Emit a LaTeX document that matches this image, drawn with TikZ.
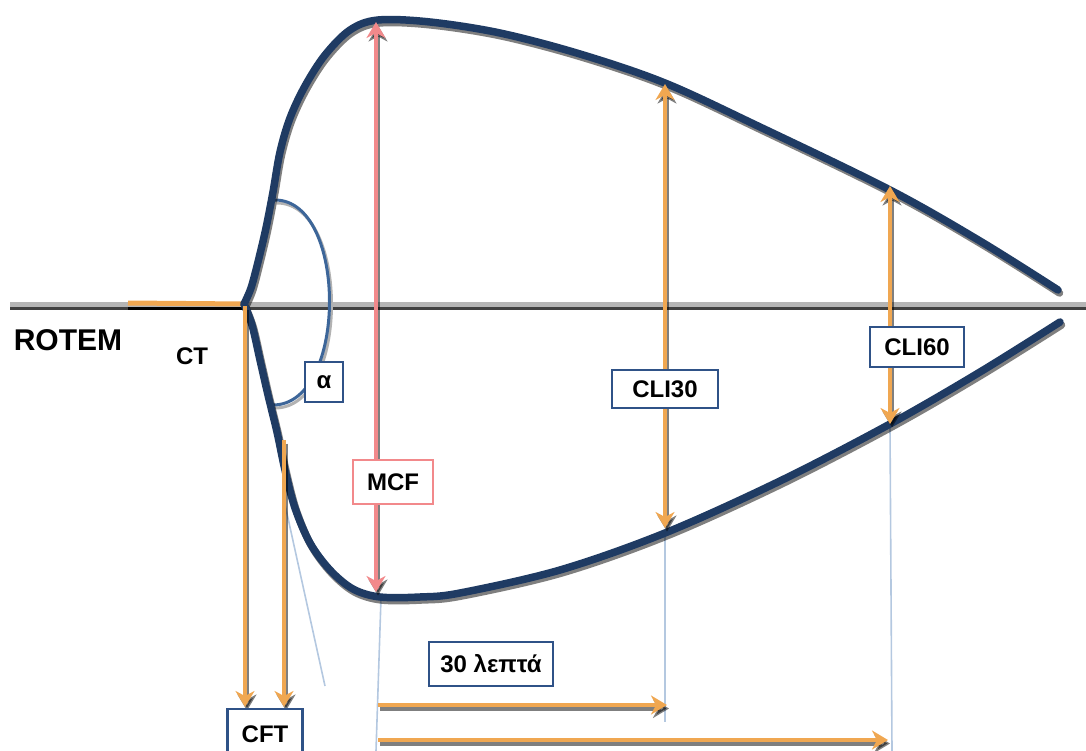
\documentclass[tikz,border=0pt]{standalone}
\usepackage{fontspec}
\setmainfont{Liberation Sans}
\usetikzlibrary{arrows.meta}
\definecolor{navy}{HTML}{1F3B63}
\definecolor{boxblue}{HTML}{2F5287}
\definecolor{arcblue}{HTML}{3D6699}
\definecolor{orng}{HTML}{F0A751}
\definecolor{pnk}{HTML}{F2898B}
\definecolor{thinblue}{HTML}{B4C8E0}
\definecolor{basegray}{HTML}{B5B5B5}
\newcommand\upperpath{plot[smooth,tension=0.55] coordinates {(244,304) (251,288) (258,262) (266,228) (273,192) (280,152) (290,118) (305,86) (325,55) (350,30) (378,20) (430,22) (500,33) (580,54) (665,83) (760,127) (890,190) (980,241) (1058,290)}}
\newcommand\lowerpath{plot[smooth,tension=0.55] coordinates {(244,304) (252,325) (260,360) (268,395) (277,432) (285,470) (295,508) (310,543) (330,570) (353,589) (380,597) (420,597) (460,593) (560,570) (665,533) (780,481) (890,424) (980,372) (1060,322)}}
\begin{document}
\begin{tikzpicture}[x=1pt,y=-1pt,
  chev/.tip={Stealth[length=16pt,width=19pt,inset=5pt]},
  curve/.style={draw=navy,line width=7.5pt,line cap=round},
  shade/.style={draw=black,opacity=0.5},
  oarrow/.style={draw=orng,line width=4pt},
  parrow/.style={draw=pnk,line width=4pt},
  thin/.style={draw=thinblue,line width=1.6pt},
  lbl/.style={draw=boxblue,line width=2.5pt,fill=white,text=black,inner sep=0pt,
    font=\bfseries\fontsize{24}{24}\selectfont},
  plain/.style={text=black,inner sep=0pt,font=\bfseries\fontsize{24}{24}\selectfont}]
\useasboundingbox (0,0) rectangle (1086,751);

% named points
\coordinate (O) at (244,304);
\coordinate (CTs) at (128,303);
\coordinate (MCFtop) at (376,22);
\coordinate (MCFbot) at (376,592);
\coordinate (C30top) at (665,84);
\coordinate (C30bot) at (665,528);
\coordinate (C60top) at (890,186);
\coordinate (C60bot) at (890,424);
\coordinate (F1s) at (245,306);
\coordinate (F1e) at (245,707);
\coordinate (F2s) at (284,440);
\coordinate (F2e) at (284,707);
\coordinate (Tstart1) at (378,705);
\coordinate (Tstart2) at (378,740);
\coordinate (T30) at (667,705);
\coordinate (T60) at (888,740);

% thin blue guide lines
\draw[thin] (284,500) -- (325,686);
\draw[thin] (381,598) -- (376,751);
\draw[thin] (665,535) -- (665,722);
\draw[thin] (890,428) -- (892,751);

% baseline
\draw[black,opacity=0.75,line width=3pt] (10,308.5) -- (1086,308.5);
\draw[basegray,line width=5pt] (10,304) -- (1086,304);
\draw[black,line width=3pt] (128,308) -- (244,308);
\draw[orng,line width=5pt] (CTs) -- (O);

% angle arc
\draw[gray!60,line width=3pt] (277,203) .. controls (350,203) and (350,408) .. (275,408);
\draw[arcblue,line width=3pt] (275,200) .. controls (348,200) and (348,405) .. (273,405);

% curve shadows
\begin{scope}[transform canvas={shift={(1.5pt,-3pt)}}]
  \draw[shade,line width=7.5pt,line cap=round] \upperpath;
  \draw[shade,line width=7.5pt,line cap=round] \lowerpath;
\end{scope}
% curves
\draw[curve] \upperpath;
\draw[curve] \lowerpath;

% arrow shadows
\begin{scope}[transform canvas={shift={(2pt,-3.5pt)}}]
  \draw[shade,line width=4pt,arrows={chev-chev}] (MCFbot) -- (MCFtop);
  \draw[shade,line width=4pt,arrows={chev-chev}] (C30bot) -- (C30top);
  \draw[shade,line width=4pt,arrows={chev-chev}] (C60bot) -- (C60top);
  \draw[shade,line width=4pt,arrows={-chev}] (F1s) -- (F1e);
  \draw[shade,line width=4pt,arrows={-chev}] (F2s) -- (F2e);
  \draw[shade,line width=4pt,arrows={-chev}] (Tstart1) -- (T30);
  \draw[shade,line width=4pt,arrows={-chev}] (Tstart2) -- (T60);
\end{scope}
% arrows
\draw[parrow,arrows={chev-chev}] (MCFbot) -- (MCFtop);
\draw[oarrow,arrows={chev-chev}] (C30bot) -- (C30top);
\draw[oarrow,arrows={chev-chev}] (C60bot) -- (C60top);
\draw[oarrow,arrows={-chev}] (F1s) -- (F1e);
\draw[oarrow,arrows={-chev}] (F2s) -- (F2e);
\draw[oarrow,arrows={-chev}] (Tstart1) -- (T30);
\draw[oarrow,arrows={-chev}] (Tstart2) -- (T60);

% labels
\node[plain,font=\bfseries\fontsize{30}{30}\selectfont] (rotem) at (68,340) {ROTEM};
\node[plain] (ct) at (192,356) {CT};
\node[lbl,minimum width=38pt,minimum height=40pt] (alpha) at (324,382) {α};
\node[lbl,draw=pnk,minimum width=80pt,minimum height=44pt] (mcf) at (393,482) {MCF};
\node[lbl,minimum width=106pt,minimum height=38pt] (cli30) at (665,389) {CLI30};
\node[lbl,minimum width=94pt,minimum height=40pt] (cli60) at (917,347) {CLI60};
\node[lbl,minimum width=124pt,minimum height=44pt] (t30) at (491,664) {30 λεπτά};
\node[lbl,minimum width=75pt,minimum height=50pt] (cft) at (265,734) {CFT};
\end{tikzpicture}
\end{document}
